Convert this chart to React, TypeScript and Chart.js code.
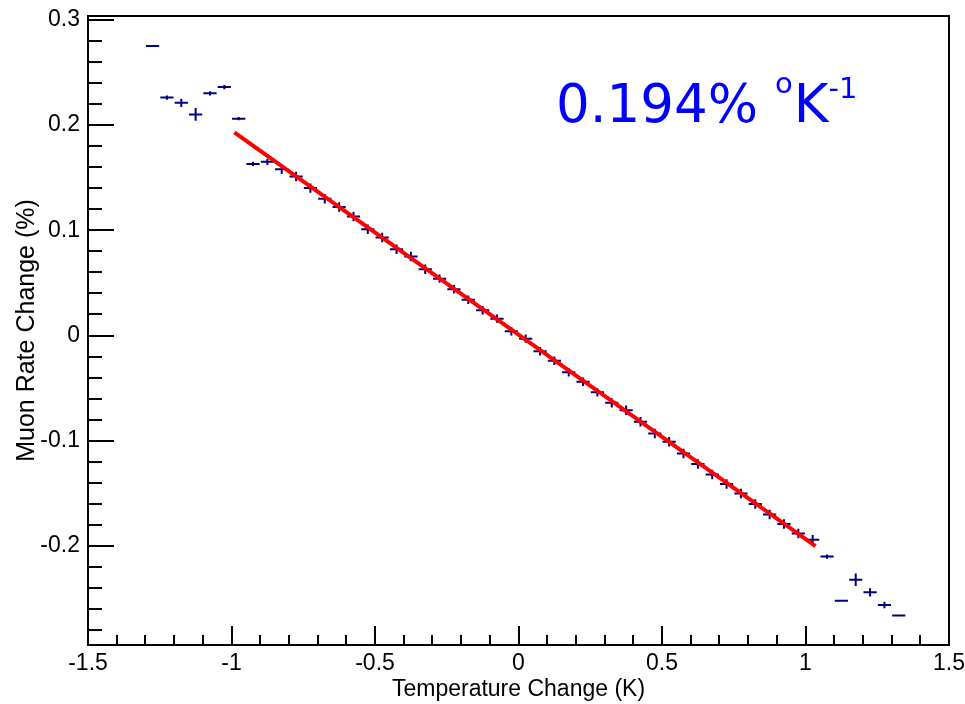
import { useEffect, useRef } from "react";
import { Chart, registerables } from "chart.js";

Chart.register(...registerables);

// ---- data ----
const temperature = [
  -1.275, -1.225, -1.175, -1.125, -1.075, -1.025, -0.975, -0.925, -0.875,
  -0.825, -0.775, -0.725, -0.675, -0.625, -0.575, -0.525, -0.475, -0.425,
  -0.375, -0.325, -0.275, -0.225, -0.175, -0.125, -0.075, -0.025,
  0.025, 0.075, 0.125, 0.175, 0.225, 0.275, 0.325, 0.375, 0.425, 0.475,
  0.525, 0.575, 0.625, 0.675, 0.725, 0.775, 0.825, 0.875, 0.925, 0.975,
  1.025, 1.075, 1.125, 1.175, 1.225, 1.275, 1.325,
];
const rateChange = [
  0.275, 0.226, 0.221, 0.21, 0.23, 0.236, 0.206, 0.163, 0.165,
  0.158, 0.151, 0.14, 0.13, 0.122, 0.113, 0.101, 0.093, 0.082,
  0.075, 0.063, 0.054, 0.044, 0.034, 0.024, 0.016, 0.004,
  -0.003, -0.015, -0.024, -0.035, -0.044, -0.054, -0.064, -0.071, -0.082, -0.093,
  -0.101, -0.112, -0.122, -0.132, -0.141, -0.15, -0.16, -0.17, -0.179, -0.188,
  -0.194, -0.21, -0.252, -0.232, -0.244, -0.256, -0.266,
];
const rateError = [
  0.0005, 0.002, 0.004, 0.006, 0.002, 0.002, 0.0015, 0.002, 0.003,
  0.0045, 0.0045, 0.0045, 0.0045, 0.0045, 0.0045, 0.0045, 0.0045, 0.0045,
  0.0045, 0.0045, 0.004, 0.004, 0.004, 0.004, 0.004, 0.004,
  0.004, 0.004, 0.004, 0.004, 0.004, 0.004, 0.0045, 0.0045, 0.0045, 0.0045,
  0.0045, 0.0045, 0.0045, 0.0045, 0.0045, 0.0045, 0.0045, 0.0045, 0.0045, 0.0045,
  0.0045, 0.002, 0.001, 0.006, 0.004, 0.003, 0.001,
];
const binHalfWidth = 0.023;

const fitX = [-0.99, 1.035];
const fitY = [0.193, -0.2];

const xTickValues = [-1.5, -1, -0.5, 0, 0.5, 1, 1.5];
const xTickLabels = ["-1.5", "-1", "-0.5", "0", "0.5", "1", "1.5"];
const yTickValues = [-0.2, -0.1, 0, 0.1, 0.2, 0.3];
const yTickLabels = ["-0.2", "-0.1", "0", "0.1", "0.2", "0.3"];
const xMin = -1.5;
const xMax = 1.5;
const yMin = -0.294;
const yMax = 0.3035;
const xMinorStep = 0.1;
const yMinorStep = 0.02;

const xTitle = "Temperature Change (K)";
const yTitle = "Muon Rate Change (%)";
const annMain = "0.194% ";
const annSup1 = "o";
const annUnit = "K";
const annSup2 = "-1";

const MARKER = "#00007f";
const FONT = '"Liberation Sans", Arial, sans-serif';

const labelFor = (vals: number[], labels: string[]) => (value: any) => {
  const i = vals.findIndex((v) => Math.abs(v - Number(value)) < 1e-9);
  return i >= 0 ? labels[i] : "";
};

const noScalePadding = (scale: any) => {
  scale.paddingLeft = 0;
  scale.paddingRight = 0;
  scale.paddingTop = 0;
  scale.paddingBottom = 0;
};

const errorBarPlugin = {
  id: "errorBars",
  beforeDatasetsDraw(chart: any) {
    const { ctx, scales } = chart;
    const xs = scales.x;
    const ys = scales.y;
    ctx.save();
    ctx.strokeStyle = MARKER;
    ctx.lineWidth = 2;
    for (let i = 0; i < temperature.length; i++) {
      const x = temperature[i];
      const y = rateChange[i];
      const e = rateError[i];
      const px = xs.getPixelForValue(x);
      const py = ys.getPixelForValue(y);
      ctx.beginPath();
      ctx.moveTo(xs.getPixelForValue(x - binHalfWidth), py);
      ctx.lineTo(xs.getPixelForValue(x + binHalfWidth), py);
      const y1 = ys.getPixelForValue(y - e);
      const y2 = ys.getPixelForValue(y + e);
      if (Math.abs(y1 - y2) > 1) {
        ctx.moveTo(px, y1);
        ctx.lineTo(px, y2);
      }
      ctx.stroke();
    }
    ctx.restore();
  },
};

const framePlugin = {
  id: "rootFrame",
  afterDraw(chart: any) {
    const { ctx, chartArea, scales } = chart;
    const { left, right, top, bottom } = chartArea;
    ctx.save();
    ctx.strokeStyle = "#000";
    ctx.lineWidth = 2;
    ctx.strokeRect(left, top, right - left, bottom - top);
    ctx.beginPath();
    // x ticks (inward, bottom axis)
    const nx0 = Math.ceil(xMin / xMinorStep - 1e-6);
    const nx1 = Math.floor(xMax / xMinorStep + 1e-6);
    for (let i = nx0; i <= nx1; i++) {
      const v = i * xMinorStep;
      const px = Math.round(scales.x.getPixelForValue(v));
      const major = i % 5 === 0;
      ctx.moveTo(px, bottom);
      ctx.lineTo(px, bottom - (major ? 19 : 10));
    }
    // y ticks (inward, left axis)
    const ny0 = Math.ceil(yMin / yMinorStep - 1e-6);
    const ny1 = Math.floor(yMax / yMinorStep + 1e-6);
    for (let i = ny0; i <= ny1; i++) {
      const v = i * yMinorStep;
      const py = Math.round(scales.y.getPixelForValue(v));
      const major = i % 5 === 0;
      ctx.moveTo(left, py);
      ctx.lineTo(left + (major ? 26 : 14), py);
    }
    ctx.stroke();

    // annotation
    ctx.fillStyle = "#0000ff";
    ctx.textBaseline = "alphabetic";
    ctx.textAlign = "left";
    const mainFont = '53px "DejaVu Sans", sans-serif';
    const supFont = '29px "DejaVu Sans", sans-serif';
    let x = 556;
    const base = 122;
    ctx.font = mainFont;
    ctx.fillText(annMain, x, base);
    x += ctx.measureText(annMain).width;
    ctx.font = supFont;
    ctx.fillText(annSup1, x, base - 29);
    x += ctx.measureText(annSup1).width + 1;
    ctx.font = mainFont;
    ctx.fillText(annUnit, x, base);
    x += ctx.measureText(annUnit).width;
    ctx.font = supFont;
    ctx.fillText(annSup2, x, base - 24);
    ctx.restore();
  },
};

export default function App() {
  const ref = useRef<HTMLCanvasElement | null>(null);
  useEffect(() => {
    if (!ref.current) return;
    const chart = new Chart(ref.current, {
      type: "scatter",
      data: {
        datasets: [
          {
            label: "fit",
            type: "line",
            data: fitX.map((x, i) => ({ x, y: fitY[i] })),
            borderColor: "#ff0000",
            borderWidth: 4,
            pointRadius: 0,
            fill: false,
          } as any,
          {
            label: "data",
            data: temperature.map((x, i) => ({ x, y: rateChange[i] })),
            pointRadius: 0,
            backgroundColor: MARKER,
            borderColor: MARKER,
          },
        ],
      },
      options: {
        animation: false,
        responsive: false,
        devicePixelRatio: 1,
        layout: { padding: { top: 16, right: 16, left: 0, bottom: 0 } },
        plugins: {
          legend: { display: false },
          tooltip: { enabled: false },
        },
        scales: {
          x: {
            type: "linear",
            min: xMin,
            max: xMax,
            afterBuildTicks: (scale: any) => {
              scale.ticks = xTickValues.map((value) => ({ value }));
            },
            afterFit: (scale: any) => {
              scale.height = 59;
              noScalePadding(scale);
            },
            grid: { display: false, drawTicks: false },
            border: { display: false },
            ticks: {
              callback: labelFor(xTickValues, xTickLabels),
              font: { family: FONT, size: 23 },
              color: "#000",
              padding: 5,
              maxRotation: 0,
              autoSkip: false,
            },
            title: {
              display: true,
              text: xTitle,
              font: { family: FONT, size: 23 },
              color: "#000",
              padding: { top: 0, bottom: 1 },
            },
          },
          y: {
            type: "linear",
            min: yMin,
            max: yMax,
            afterBuildTicks: (scale: any) => {
              scale.ticks = yTickValues.map((value) => ({ value }));
            },
            afterFit: (scale: any) => {
              scale.width = 88;
              noScalePadding(scale);
            },
            grid: { display: false, drawTicks: false },
            border: { display: false },
            ticks: {
              callback: labelFor(yTickValues, yTickLabels),
              font: { family: FONT, size: 23 },
              color: "#000",
              padding: 8,
              autoSkip: false,
            },
            title: {
              display: true,
              text: yTitle,
              font: { family: FONT, size: 25 },
              color: "#000",
              padding: { top: 12, bottom: 0 },
            },
          },
        },
      },
      plugins: [errorBarPlugin, framePlugin],
    });
    return () => chart.destroy();
  }, []);

  return (
    <div style={{ position: "absolute", left: 0, top: 0, width: 965, height: 704, background: "#fff" }}>
      <canvas ref={ref} width={965} height={704} style={{ display: "block" }} />
    </div>
  );
}
